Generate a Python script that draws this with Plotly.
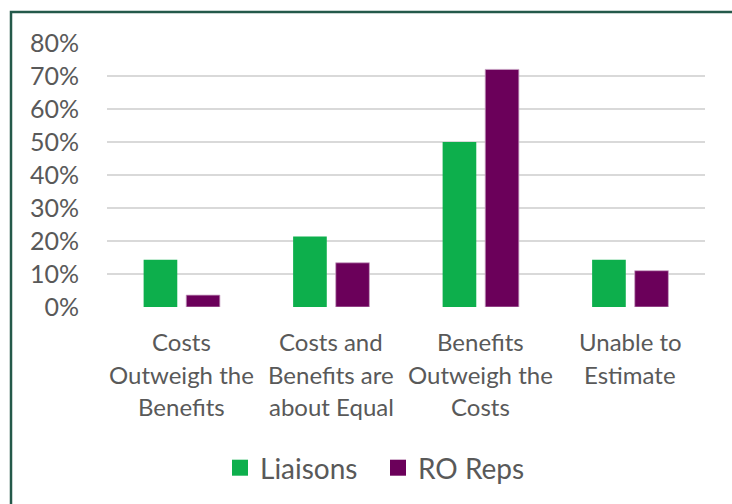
import plotly.graph_objects as go

categories = ["Costs Outweigh the Benefits", "Costs and Benefits are about Equal",
              "Benefits Outweigh the Costs", "Unable to Estimate"]
category_lines = [["Costs", "Outweigh the", "Benefits"],
                  ["Costs and", "Benefits are", "about Equal"],
                  ["Benefits", "Outweigh the", "Costs"],
                  ["Unable to", "Estimate"]]
series_names = ["Liaisons", "RO Reps"]
liaisons = [0.143, 0.214, 0.50, 0.143]
ro_reps = [0.036, 0.134, 0.72, 0.11]
tick_vals = [0, 0.1, 0.2, 0.3, 0.4, 0.5, 0.6, 0.7, 0.8]
tick_text = ["0%", "10%", "20%", "30%", "40%", "50%", "60%", "70%", "80%"]

FONT = "Lato"
GRAY = "#595959"
GREEN = "#0DAF4C"
PURPLE = "#6B005A"

fig = go.Figure()
fig.add_trace(go.Bar(x=categories, y=liaisons, name=series_names[0], showlegend=False,
                     marker=dict(color=GREEN, line=dict(width=0))))
fig.add_trace(go.Bar(x=categories, y=ro_reps, name=series_names[1], showlegend=False,
                     marker=dict(color=PURPLE, line=dict(width=0.8, color="#C9A3C4"))))
# legend-only entries with larger square swatches
for name, col in zip(series_names, [GREEN, PURPLE]):
    fig.add_trace(go.Scatter(x=[categories[0]], y=[None], mode="markers", name=name,
                             marker=dict(symbol="square", size=18, color=col)))

W, H = 732, 504
L, R, T, B = 107, 27, 43, 196
pw, ph = W - L - R, H - T - B

annotations = []
for cat, lines in zip(categories, category_lines):
    for i, line in enumerate(lines):
        py = 343 + i * 32.5
        annotations.append(dict(x=cat, xref="x", y=(H - B - py) / ph, yref="paper",
                                text=line, showarrow=False, xanchor="center", yanchor="middle",
                                font=dict(family=FONT, size=24, color=GRAY)))

fig.update_layout(
    width=W, height=H,
    margin=dict(l=L, r=R, t=T, b=B),
    paper_bgcolor="white", plot_bgcolor="white",
    barmode="group", bargap=0.43, bargroupgap=0.21,
    font=dict(family=FONT, size=24, color=GRAY),
    xaxis=dict(showticklabels=False, showgrid=False, zeroline=False, showline=False, ticks=""),
    yaxis=dict(range=[0, 0.8], tickvals=tick_vals, ticktext=tick_text,
               showgrid=True, gridcolor="#D9D9D9", gridwidth=1.5, zeroline=False,
               showline=False, ticks="", ticklabelstandoff=27,
               tickfont=dict(family=FONT, size=25, color=GRAY)),
    legend=dict(orientation="h", x=(220 - L) / pw, xanchor="left", y=(H - B - 468) / ph, yanchor="middle",
                font=dict(family=FONT, size=28, color=GRAY), itemwidth=30,
                entrywidth=113, entrywidthmode="pixels",
                traceorder="normal", bgcolor="rgba(0,0,0,0)"),
    annotations=annotations,
    shapes=[dict(type="rect", xref="paper", yref="paper",
                 x0=(11 - L) / pw, x1=(760 - L) / pw,
                 y0=(H - B - 530) / ph, y1=(H - B - 12) / ph,
                 line=dict(color="#24594A", width=2.5), fillcolor="rgba(0,0,0,0)", layer="below")],
)

fig.write_html("out.html", config={"displayModeBar": False},
               post_script="document.body.style.margin='0';")
